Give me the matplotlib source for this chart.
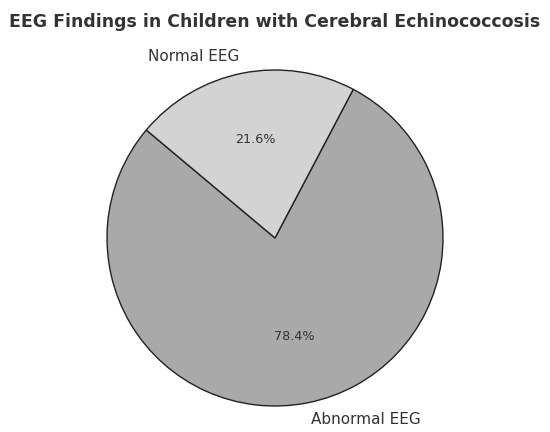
import matplotlib
matplotlib.use("Agg")
import matplotlib.pyplot as plt

labels = ["Abnormal EEG", "Normal EEG"]
sizes = [78.4, 21.6]
colors = ["#a9a9a9", "#d3d3d3"]

# pie radius in pixels and centre
R, CX, CY = 168, 275, 238
half = R * 1.25
fig = plt.figure(figsize=(5.5, 4.32), dpi=100)
ax = fig.add_axes([(CX - half) / 550, (432 - CY - half) / 432, 2 * half / 550, 2 * half / 432])
wedges, texts, autotexts = ax.pie(
    sizes, labels=labels, colors=colors, autopct="%1.1f%%", startangle=140,
    wedgeprops={"edgecolor": "#222222", "linewidth": 1.0},
    textprops={"fontsize": 9.2, "color": "#333333"},
)
for t in texts:
    t.set_fontsize(11)
ax.set_aspect("equal")
fig.text(0.5, 1 - 22 / 432, "EEG Findings in Children with Cerebral Echinococcosis",
         ha="center", va="center", fontsize=12.5, fontweight="bold", color="#333333")
fig.savefig("out.png", dpi=100, facecolor="white")
